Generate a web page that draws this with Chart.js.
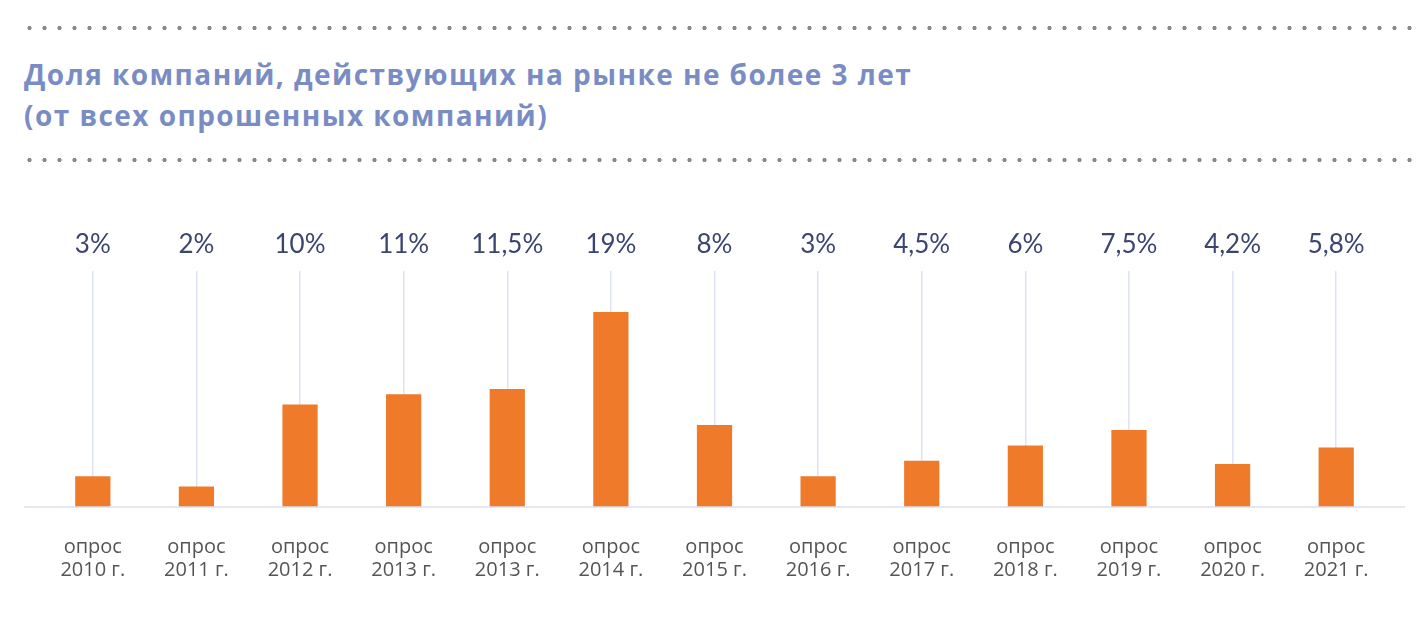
<!DOCTYPE html>
<html lang="ru">
<head>
<meta charset="UTF-8">
<title>Доля компаний, действующих на рынке не более 3 лет</title>
<script src="https://cdn.jsdelivr.net/npm/chart.js@4.4.1/dist/chart.umd.min.js"></script>
<style>
  html, body { margin: 0; padding: 0; background: #fff; }
  body { width: 1425px; height: 617px; position: relative; overflow: hidden; }
  .dots {
    position: absolute; left: 22px; width: 1390px; height: 6px;
    background-image: radial-gradient(circle, #8a8a8a 1.8px, transparent 2.4px);
    background-size: 15px 6px; background-repeat: repeat-x;
  }
  #title {
    position: absolute; left: 24px; top: 54px; margin: 0;
    font-family: "Open Sans", Lato, sans-serif; font-weight: 700;
    font-size: 28px; line-height: 41px; letter-spacing: 1.45px; color: #7a8cc4;
  }
  #wrap { position: absolute; left: 0; top: 180px; width: 1425px; height: 437px; }
</style>
</head>
<body>
<div class="dots" style="top:25px"></div>
<h1 id="title">Доля компаний, действующих на рынке не более 3 лет<br>(от всех опрошенных компаний)</h1>
<div class="dots" style="top:157px"></div>
<div id="wrap"><canvas id="myChart"></canvas></div>

<script>
  // ------------------------------------------------------------------ data
  var surveyLabels = ['опрос', 'опрос', 'опрос', 'опрос', 'опрос', 'опрос', 'опрос',
                      'опрос', 'опрос', 'опрос', 'опрос', 'опрос', 'опрос']
  var surveyYears = ['2010 г.', '2011 г.', '2012 г.', '2013 г.', '2013 г.', '2014 г.', '2015 г.',
                     '2016 г.', '2017 г.', '2018 г.', '2019 г.', '2020 г.', '2021 г.']
  var shareValues = [3, 2, 10, 11, 11.5, 19, 8, 3, 4.5, 6, 7.5, 4.2, 5.8]
  var valueLabels = ['3%', '2%', '10%', '11%', '11,5%', '19%', '8%', '3%', '4,5%', '6%', '7,5%', '4,2%', '5,8%']

  var categories = surveyYears.map(function (y, i) { return [surveyLabels[i], y] })

  // --------------------------------------------------------------- plugins
  var valueLabelPlugin = {
    id: 'valueLabels',
    afterDatasetsDraw: function (chart) {
      var ctx = chart.ctx
      var meta = chart.getDatasetMeta(0)
      ctx.save()
      ctx.font = '400 26px Lato, "Open Sans", sans-serif'
      ctx.fillStyle = '#3b4570'
      ctx.textAlign = 'center'
      ctx.textBaseline = 'middle'
      meta.data.forEach(function (bar, i) {
        ctx.fillText(valueLabels[i], bar.x, chart.chartArea.top - 26)
      })
      ctx.restore()
    }
  }

  var baselinePlugin = {
    id: 'baseline',
    afterDatasetsDraw: function (chart) {
      var ctx = chart.ctx
      var y = chart.scales.y.getPixelForValue(0)
      ctx.save()
      ctx.strokeStyle = '#dbe1f2'
      ctx.lineWidth = 1.5
      ctx.beginPath()
      ctx.moveTo(24, y)
      ctx.lineTo(1405, y)
      ctx.stroke()
      ctx.restore()
    }
  }

  // ----------------------------------------------------------------- chart
  var ctx = document.getElementById('myChart').getContext('2d')
  var myChart = new Chart(ctx, {
    type: 'bar',
    data: {
      labels: categories,
      datasets: [{
        data: shareValues,
        backgroundColor: '#ee7a2a',
        borderWidth: 0,
        categoryPercentage: 1,
        barPercentage: 0.34
      }]
    },
    options: {
      responsive: true,
      maintainAspectRatio: false,
      animation: false,
      layout: { padding: { left: 41, right: 37, top: 91, bottom: 6 } },
      plugins: {
        legend: { display: false },
        tooltip: { enabled: false }
      },
      scales: {
        x: {
          grid: { display: true, offset: false, color: '#dde3f3', lineWidth: 1.5, drawTicks: false },
          border: { display: false },
          ticks: {
            padding: 29,
            color: '#555555',
            font: { family: '"Open Sans", sans-serif', size: 20, lineHeight: 1.15 },
            maxRotation: 0,
            autoSkip: false
          }
        },
        y: {
          display: false,
          min: 0,
          max: 23
        }
      }
    },
    plugins: [valueLabelPlugin, baselinePlugin]
  })
</script>
</body>
</html>
